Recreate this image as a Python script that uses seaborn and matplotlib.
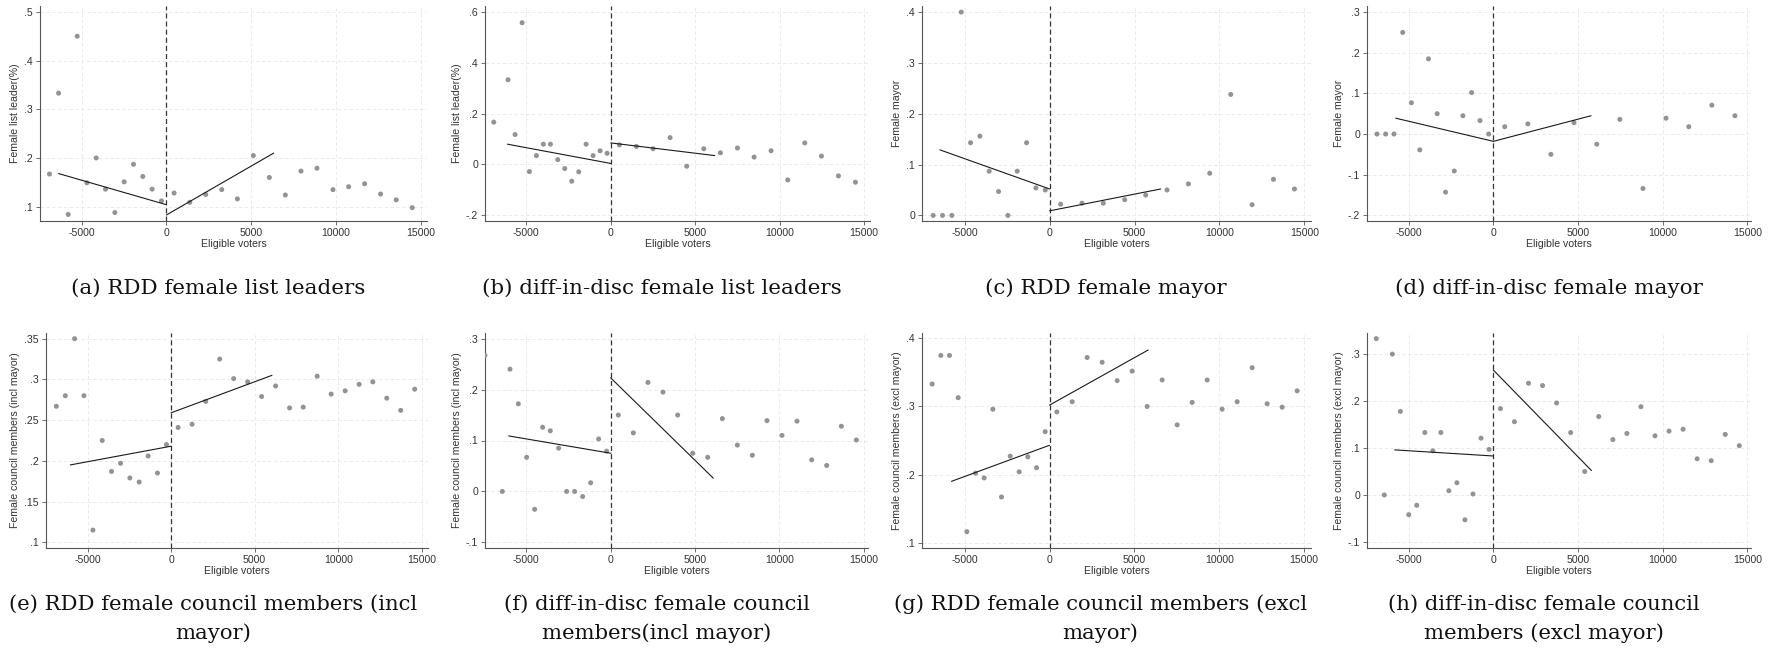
import matplotlib
matplotlib.use("Agg")
import matplotlib.pyplot as plt
import seaborn as sns
import pandas as pd

# ---------------- data ----------------
a_x = [-6900, -6365, -5796, -5265, -4695, -4145, -3595, -3045, -2495, -1945, -1395, -845, -295,
       452, 1375, 2318, 3261, 4185, 5128, 6071, 7014, 7937, 8880, 9823, 10747, 11690, 12633, 13556, 14499]
a_y = [.167, .333, .084, .450, .149, .200, .136, .088, .151, .187, .162, .136, .112,
       .128, .109, .125, .135, .116, .205, .160, .124, .173, .179, .135, .141, .147, .126, .114, .098]
a_fit_l = ([-6365, 0], [.168, .104]); a_fit_r = ([0, 6326], [.083, .210])

b_x = [-6930, -6081, -5667, -5252, -4818, -4403, -3988, -3574, -3140, -2725, -2310, -1895, -1461, -1046, -632, -217,
       513, 1520, 2507, 3514, 4501, 5509, 6496, 7503, 8490, 9497, 10484, 11491, 12478, 13485, 14492]
b_y = [.166, .333, .117, .558, -.029, .034, .079, .079, .018, -.017, -.067, -.030, .079, .034, .053, .043,
       .076, .070, .061, .105, -.008, .061, .045, .064, .028, .053, -.062, .084, .032, -.046, -.071]
b_fit_l = ([-6120, 0], [.079, .003]); b_fit_r = ([0, 6160], [.084, .034])

c_x = [-6857, -6306, -5756, -5206, -4656, -4106, -3556, -3006, -2456, -1906, -1356, -806, -255,
       648, 1906, 3163, 4420, 5658, 6916, 8173, 9430, 10668, 11925, 13183, 14420]
c_y = [0, 0, 0, .400, .143, .156, .087, .047, 0, .087, .143, .054, .050,
       .022, .024, .024, .031, .040, .050, .062, .083, .238, .021, .071, .052]
c_fit_l = ([-6464, 0], [.129, .052]); c_fit_r = ([0, 6542], [.009, .052])

d_x = [-6877, -6364, -5870, -5356, -4842, -4348, -3834, -3320, -2826, -2312, -1798, -1285, -791, -277,
       672, 2036, 3399, 4763, 6107, 7470, 8834, 10198, 11542, 12905, 14269]
d_y = [0, 0, 0, .250, .077, -.039, .185, .050, -.143, -.091, .045, .102, .033, 0,
       .018, .025, -.050, .028, -.025, .036, -.134, .039, .018, .071, .045]
d_fit_l = ([-5771, 0], [.039, -.018]); d_fit_r = ([0, 5771], [-.018, .045])

e_x = [-6873, -6335, -5777, -5219, -4681, -4124, -3566, -3028, -2470, -1912, -1375, -817, -279,
       418, 1255, 2072, 2908, 3745, 4582, 5418, 6255, 7092, 7908, 8745, 9582, 10418, 11255, 12072, 12908, 13745, 14582]
e_y = [.267, .280, .350, .280, .115, .225, .187, .197, .179, .174, .206, .185, .220,
       .241, .245, .273, .325, .301, .297, .279, .292, .265, .266, .304, .282, .286, .294, .297, .277, .262, .288]
e_fit_l = ([-6036, 0], [.195, .218]); e_fit_r = ([0, 6036], [.259, .305])

f_x = [-7451, -6423, -5968, -5474, -4980, -4506, -4032, -3577, -3083, -2609, -2134, -1660, -1186, -711, -237,
       455, 1344, 2213, 3103, 3972, 4862, 5751, 6621, 7510, 8399, 9269, 10158, 11047, 11917, 12806, 13676, 14565]
f_y = [.267, 0, .240, .172, .067, -.035, .126, .119, .085, 0, 0, -.010, .017, .103, .079,
       .150, .115, .214, .195, .150, .075, .067, .143, .091, .071, .139, .110, .138, .062, .051, .128, .101]
f_fit_l = ([-6047, 0], [.109, .075]); f_fit_r = ([0, 6087], [.223, .026])

g_x = [-6916, -6405, -5894, -5383, -4872, -4361, -3851, -3340, -2829, -2318, -1788, -1277, -766, -255,
       432, 1336, 2220, 3104, 3988, 4872, 5756, 6640, 7525, 8409, 9293, 10177, 11061, 11945, 12829, 13713, 14597]
g_y = [.333, .375, .375, .313, .116, .202, .195, .296, .167, .227, .204, .226, .210, .263,
       .292, .307, .372, .365, .338, .352, .300, .339, .273, .306, .339, .296, .307, .357, .304, .299, .323]
g_fit_l = ([-5776, 0], [.190, .243]); g_fit_r = ([0, 5815], [.302, .383])

h_x = [-6917, -6443, -5968, -5494, -5000, -4526, -4051, -3577, -3103, -2628, -2154, -1680, -1206, -731, -257,
       415, 1245, 2075, 2905, 3735, 4565, 5395, 6225, 7055, 7885, 8715, 9545, 10375, 11206, 12036, 12866, 13696, 14526]
h_y = [.333, 0, .300, .178, -.042, -.022, .133, .094, .133, .009, .026, -.053, .002, .121, .097,
       .184, .156, .238, .233, .196, .133, .050, .167, .118, .131, .188, .126, .136, .140, .077, .073, .129, .105]
h_fit_l = ([-5830, 0], [.096, .083]); h_fit_r = ([0, 5791], [.266, .052])

x_ticks = [-5000, 0, 5000, 10000, 15000]
x_ticklabels = ["-5000", "0", "5000", "10000", "15000"]

a_yt = [.1, .2, .3, .4, .5]; a_ytl = [".1", ".2", ".3", ".4", ".5"]
b_yt = [-.2, 0, .2, .4, .6]; b_ytl = ["-.2", "0", ".2", ".4", ".6"]
c_yt = [0, .1, .2, .3, .4]; c_ytl = ["0", ".1", ".2", ".3", ".4"]
d_yt = [-.2, -.1, 0, .1, .2, .3]; d_ytl = ["-.2", "-.1", "0", ".1", ".2", ".3"]
e_yt = [.1, .15, .2, .25, .3, .35]; e_ytl = [".1", ".15", ".2", ".25", ".3", ".35"]
f_yt = [-.1, 0, .1, .2, .3]; f_ytl = ["-.1", "0", ".1", ".2", ".3"]
g_yt = [.1, .2, .3, .4]; g_ytl = [".1", ".2", ".3", ".4"]
h_yt = [-.1, 0, .1, .2, .3]; h_ytl = ["-.1", "0", ".1", ".2", ".3"]

ylabels = ["Female list leader(%)", "Female list leader(%)", "Female mayor", "Female mayor",
           "Female council members (incl mayor)", "Female council members (incl mayor)",
           "Female council members (excl mayor)", "Female council members (excl mayor)"]
captions = ["(a) RDD female list leaders", "(b) diff-in-disc female list leaders",
            "(c) RDD female mayor", "(d) diff-in-disc female mayor",
            "(e) RDD female council members (incl\nmayor)", "(f) diff-in-disc female council\nmembers(incl mayor)",
            "(g) RDD female council members (excl\nmayor)", "(h) diff-in-disc female council\nmembers (excl mayor)"]

# ---------------- layout (not data) ----------------
W, H = 1773, 649
# left, right, top, bottom in pixels
boxes = [(40, 427, 6, 221), (485, 870, 6, 221), (922, 1311, 6, 221), (1367, 1751, 6, 221),
         (46, 428, 333, 548), (485, 868, 333, 548), (922, 1311, 333, 548), (1367, 1751, 333, 548)]
xlims = [(-7460, 15370), (-7448, 15355), (-7515, 15393), (-7465, 15217),
         (-7490, 15378), (-7448, 15255), (-7515, 15413), (-7465, 15217)]
ylims = [(.0706, .512), (-.224, .624), (-.011, .412), (-.214, .315),
         (.093, .357), (-.111, .311), (.092, .408), (-.113, .345)]

panels = [
    (a_x, a_y, a_fit_l, a_fit_r, a_yt, a_ytl),
    (b_x, b_y, b_fit_l, b_fit_r, b_yt, b_ytl),
    (c_x, c_y, c_fit_l, c_fit_r, c_yt, c_ytl),
    (d_x, d_y, d_fit_l, d_fit_r, d_yt, d_ytl),
    (e_x, e_y, e_fit_l, e_fit_r, e_yt, e_ytl),
    (f_x, f_y, f_fit_l, f_fit_r, f_yt, f_ytl),
    (g_x, g_y, g_fit_l, g_fit_r, g_yt, g_ytl),
    (h_x, h_y, h_fit_l, h_fit_r, h_yt, h_ytl),
]

sns.set_style("white")
plt.rcParams["font.family"] = ["Liberation Sans", "DejaVu Sans"]

fig = plt.figure(figsize=(W / 100, H / 100), dpi=100)
fig.patch.set_facecolor("white")

tick_color = "#333333"
fs = 7.6
for i, (px, py, fl, fr, yt, ytl) in enumerate(panels):
    l, r, t, b = boxes[i]
    ax = fig.add_axes([l / W, 1 - b / H, (r - l) / W, (b - t) / H])
    ax.set_xlim(*xlims[i]); ax.set_ylim(*ylims[i])
    ax.set_xticks(x_ticks); ax.set_xticklabels(x_ticklabels)
    ax.set_yticks(yt); ax.set_yticklabels(ytl)
    ax.grid(True, color="#e6e6e6", linestyle=(0, (4, 3)), linewidth=0.6)
    ax.set_axisbelow(True)

    df = pd.DataFrame({"x": px, "y": py})
    sns.scatterplot(data=df, x="x", y="y", ax=ax, color="#939393", s=13, edgecolor="none", zorder=3)
    dl = pd.DataFrame({"x": fl[0], "y": fl[1]})
    dr = pd.DataFrame({"x": fr[0], "y": fr[1]})
    sns.lineplot(data=dl, x="x", y="y", ax=ax, color="#1a1a1a", linewidth=0.8, zorder=4)
    sns.lineplot(data=dr, x="x", y="y", ax=ax, color="#1a1a1a", linewidth=0.8, zorder=4)
    ax.axvline(0, color="#333333", linestyle=(0, (4, 2.5)), linewidth=0.9, zorder=2)

    for s in ["top", "right"]:
        ax.spines[s].set_visible(False)
    for s in ["left", "bottom"]:
        ax.spines[s].set_color("#555555")
        ax.spines[s].set_linewidth(0.8)
    ax.tick_params(axis="both", length=3, width=0.6, color="#555555", labelsize=fs,
                   labelcolor=tick_color, pad=2, left=True, bottom=True)
    ax.set_xlabel("Eligible voters", fontsize=fs, color=tick_color, labelpad=1)
    ax.set_ylabel(ylabels[i], fontsize=fs, color=tick_color, labelpad=3)

    col = i % 4
    if i < 4:
        cx = (218.5 + col * 443.5) / W
        fig.text(cx, 1 - 288 / H, captions[i], ha="center", va="center",
                 fontsize=15.4, family="DejaVu Serif", color="#111111")
    else:
        cx = (213.5 + col * 443.5) / W
        fig.text(cx, 1 - 619 / H, captions[i], ha="center", va="center",
                 fontsize=15.2, family="DejaVu Serif", color="#111111", linespacing=1.6)

fig.savefig("out.png", dpi=100, facecolor="white")
